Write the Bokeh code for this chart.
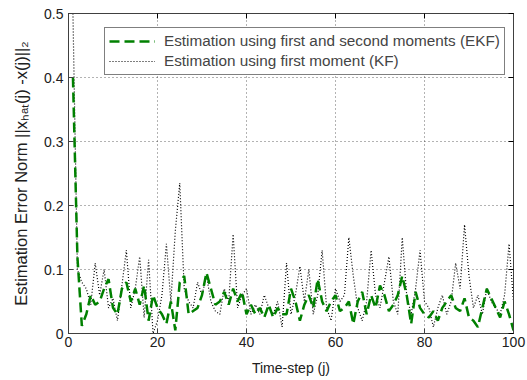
from bokeh.plotting import figure
from bokeh.models import LinearAxis, Range1d, Legend, LegendItem, FixedTicker
from bokeh.embed import file_html
from bokeh.resources import INLINE

steps = list(range(1, 101))

ekf = [0.40, 0.12, 0.012, 0.03, 0.06, 0.045, 0.05, 0.07, 0.085, 0.04,
       0.03, 0.07, 0.08, 0.05, 0.07, 0.045, 0.075, 0.02, 0.06, 0.04,
       0.03, 0.015, 0.05, 0.005, 0.08, 0.09, 0.03, 0.035, 0.04, 0.06,
       0.095, 0.07, 0.045, 0.05, 0.065, 0.045, 0.07, 0.05, 0.065, 0.03,
       0.045, 0.03, 0.04, 0.025, 0.045, 0.025, 0.04, 0.03, 0.03, 0.07,
       0.05, 0.02, 0.045, 0.06, 0.04, 0.085, 0.05, 0.035, 0.05, 0.06,
       0.035, 0.04, 0.05, 0.015, 0.05, 0.065, 0.03, 0.06, 0.04, 0.075,
       0.06, 0.035, 0.045, 0.06, 0.09, 0.06, 0.015, 0.065, 0.04, 0.03,
       0.025, 0.035, 0.02, 0.04, 0.05, 0.06, 0.04, 0.035, 0.055, 0.025,
       0.02, 0.01, 0.04, 0.07, 0.055, 0.04, 0.025, 0.05, 0.03, 0.005]

kf = [0.50, 0.10, 0.08, 0.07, 0.045, 0.11, 0.06, 0.10, 0.04, 0.055,
      0.02, 0.075, 0.13, 0.04, 0.07, 0.12, 0.025, 0.115, 0.0, 0.02,
      0.06, 0.14, 0.05, 0.16, 0.235, 0.07, 0.05, 0.04, 0.08, 0.06,
      0.09, 0.05, 0.035, 0.03, 0.07, 0.05, 0.155, 0.04, 0.06, 0.07,
      0.03, 0.045, 0.03, 0.06, 0.04, 0.03, 0.05, 0.01, 0.11, 0.03,
      0.06, 0.105, 0.05, 0.10, 0.03, 0.06, 0.13, 0.04, 0.02, 0.07,
      0.05, 0.06, 0.15, 0.09, 0.04, 0.02, 0.05, 0.13, 0.06, 0.04,
      0.08, 0.12, 0.05, 0.03, 0.15, 0.06, 0.03, 0.07, 0.13, 0.05,
      0.04, 0.01, 0.04, 0.06, 0.03, 0.05, 0.11, 0.07, 0.17, 0.09,
      0.04, 0.06, 0.03, 0.07, 0.05, 0.04, 0.03, 0.06, 0.14, 0.05]

x_ticks = [0, 20, 40, 60, 80, 100]
y_ticks = [0, 0.1, 0.2, 0.3, 0.4, 0.5]
label_ekf = "Estimation using first and second moments (EKF)"
label_kf = "Estimation using first moment (KF)"
x_title = "Time-step (j)"
y_title = "Estimation Error Norm ||x\u2095\u2090\u209c(j) -x(j)||\u2082"

FONT = "Liberation Sans"
W, H = 527, 380

p = figure(width=W, height=H, output_backend="svg", toolbar_location=None,
           x_range=Range1d(0, 100), y_range=Range1d(0, 0.5),
           min_border_left=68, min_border_right=14, min_border_top=13, min_border_bottom=47)

p.outline_line_color = "black"
p.outline_line_width = 1
p.background_fill_color = "white"
p.border_fill_color = "white"

for ax in (p.xaxis[0], p.yaxis[0]):
    ax.major_tick_in = 5
    ax.major_tick_out = 0
    ax.minor_tick_line_color = None
    ax.axis_line_color = "#404040"
    ax.major_tick_line_color = "#404040"
    ax.major_label_text_font = FONT
    ax.major_label_text_font_size = "14px"
    ax.major_label_text_color = "#202020"
    ax.axis_label_text_font = FONT
    ax.axis_label_text_font_style = "normal"
    ax.axis_label_text_color = "#202020"

p.xaxis.major_label_standoff = 3
p.yaxis.major_label_standoff = 5
p.xaxis.ticker = FixedTicker(ticks=x_ticks)
p.yaxis.ticker = FixedTicker(ticks=y_ticks)
p.yaxis.major_label_overrides = {0: "0", 0.1: "0.1", 0.2: "0.2", 0.3: "0.3", 0.4: "0.4", 0.5: "0.5"}
p.xaxis.axis_label = x_title
p.xaxis.axis_label_text_font_size = "14px"
p.xaxis.axis_label_standoff = 10
p.yaxis.axis_label = y_title
p.yaxis.axis_label_text_font_size = "16.5px"
p.yaxis.axis_label_standoff = 11

top = LinearAxis(ticker=FixedTicker(ticks=x_ticks), major_tick_in=5, major_tick_out=0,
                 minor_tick_line_color=None, major_label_text_color=None,
                 major_label_overrides={t: "" for t in x_ticks},
                 major_label_standoff=0, axis_line_color="#404040")
right = LinearAxis(ticker=FixedTicker(ticks=y_ticks), major_tick_in=5, major_tick_out=0,
                   minor_tick_line_color=None, major_label_text_color=None,
                   major_label_overrides={t: "" for t in y_ticks},
                   major_label_standoff=0, axis_line_color="#404040")
p.add_layout(top, "above")
p.add_layout(right, "right")

p.grid.grid_line_color = "black"
p.grid.grid_line_alpha = 0.6
p.grid.grid_line_dash = "1 3"
p.xgrid.ticker = FixedTicker(ticks=x_ticks)
p.ygrid.ticker = FixedTicker(ticks=y_ticks)

r_kf = p.line(steps, kf, line_color="black", line_width=1.2, line_dash="1 2")
r_ekf = p.line(steps, ekf, line_color="#008000", line_width=2.5, line_dash="10 5")

legend = Legend(items=[LegendItem(label=label_ekf, renderers=[r_ekf]),
                       LegendItem(label=label_kf, renderers=[r_kf])],
                location=(36, 258), border_line_color="black", border_line_width=1,
                label_text_font=FONT, label_text_font_size="15.3px",
                glyph_width=46, glyph_height=18, label_height=18, spacing=2,
                padding=4, margin=0, label_standoff=9, background_fill_alpha=1)
p.add_layout(legend, "center")

open("out.html", "w").write(file_html(p, INLINE))
